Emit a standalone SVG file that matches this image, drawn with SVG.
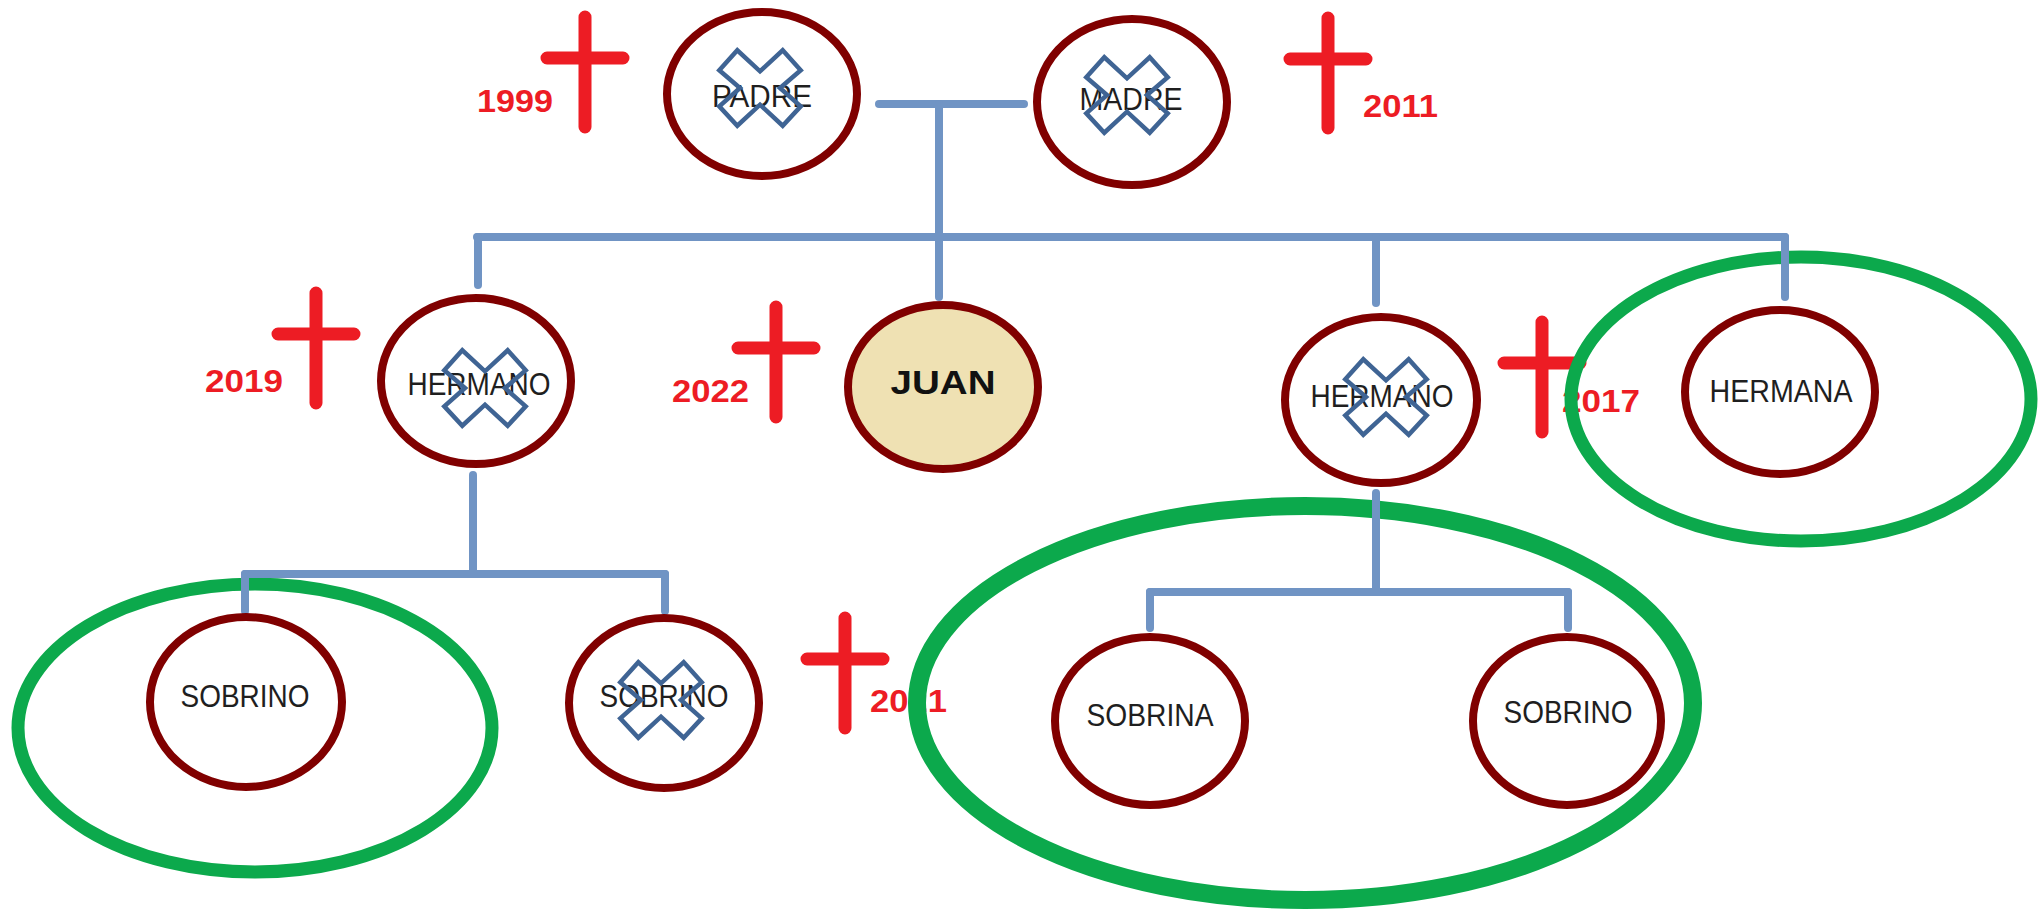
<svg xmlns="http://www.w3.org/2000/svg" width="2040" height="911" viewBox="0 0 2040 911">
<style>
.node{fill:#ffffff;stroke:#800000;stroke-width:8}
.juan{fill:#EFE1B3}
.lbl{font-family:"Liberation Sans",Arial,sans-serif;font-size:31px;fill:#1f1f1f;text-anchor:middle}
.jlbl{font-family:"Liberation Sans",Arial,sans-serif;font-size:34px;font-weight:bold;fill:#111111;text-anchor:middle}
.yr{font-family:"Liberation Sans",Arial,sans-serif;font-size:31px;font-weight:bold;fill:#ED1C24}
.cross{fill:none;stroke:#ED1C24;stroke-width:13;stroke-linecap:round}
.xm{fill:none;stroke:#3F6494;stroke-width:4.5;stroke-linejoin:miter}
.conn{fill:none;stroke:#7094C4;stroke-width:8;stroke-linecap:round}
.hl{fill:none;stroke:#0CA94C}
</style>
<defs>
<path id="cr" d="M0,0 V110 M-38,41 H38"/>
<polygon id="xmark" points="-40.7,-17.7 -22.7,-37.7 0,-16.7 22.7,-37.7 40.7,-17.7 20,0 40.7,18.3 22.7,37.7 0,16.7 -22.7,37.7 -40.7,18.3 -20,0"/>
</defs>
<rect width="2040" height="911" fill="#ffffff"/>

<g id="deaths">
<use href="#cr" class="cross" x="585" y="17"/>
<text class="yr" x="477" y="112" textLength="76" lengthAdjust="spacingAndGlyphs">1999</text>
<use href="#cr" class="cross" x="1328" y="18"/>
<text class="yr" x="1363" y="117" textLength="75" lengthAdjust="spacingAndGlyphs">2011</text>
<use href="#cr" class="cross" x="316" y="293"/>
<text class="yr" x="205" y="392" textLength="78" lengthAdjust="spacingAndGlyphs">2019</text>
<use href="#cr" class="cross" x="776" y="307"/>
<text class="yr" x="672" y="402" textLength="77" lengthAdjust="spacingAndGlyphs">2022</text>
<use href="#cr" class="cross" x="1542" y="322"/>
<text class="yr" x="1562" y="412" textLength="78" lengthAdjust="spacingAndGlyphs">2017</text>
<use href="#cr" class="cross" x="845" y="618"/>
<text class="yr" x="870" y="712" textLength="77" lengthAdjust="spacingAndGlyphs">2021</text>
</g>

<g id="highlights">
<ellipse class="hl" cx="255" cy="728" rx="237" ry="144" stroke-width="13"/>
<ellipse class="hl" cx="1801" cy="399" rx="230" ry="142" stroke-width="13"/>
<ellipse class="hl" cx="1305" cy="703" rx="388" ry="197" stroke-width="18"/>
</g>

<g id="connectors">
<path class="conn" d="M879,104 H1024"/>
<path class="conn" d="M939,104 V297"/>
<path class="conn" d="M477,237 H1785"/>
<path class="conn" d="M478,237 V285"/>
<path class="conn" d="M1376,237 V303"/>
<path class="conn" d="M1785,237 V297"/>
<path class="conn" d="M473,475 V574"/>
<path class="conn" d="M245,574 H665"/>
<path class="conn" d="M245,574 V611"/>
<path class="conn" d="M665,574 V611"/>
<path class="conn" d="M1376,493 V592"/>
<path class="conn" d="M1150,592 H1568"/>
<path class="conn" d="M1150,592 V628"/>
<path class="conn" d="M1568,592 V628"/>
</g>

<g id="padre">
<ellipse class="node" cx="762" cy="94" rx="95" ry="82"/>
<text class="lbl" x="762" y="107" textLength="100" lengthAdjust="spacingAndGlyphs">PADRE</text>
<use href="#xmark" class="xm" x="760" y="88"/>
</g>
<g id="madre">
<ellipse class="node" cx="1132" cy="102" rx="95" ry="83"/>
<text class="lbl" x="1131" y="110" textLength="103" lengthAdjust="spacingAndGlyphs">MADRE</text>
<use href="#xmark" class="xm" x="1127" y="95"/>
</g>
<g id="hermano1">
<ellipse class="node" cx="476" cy="381" rx="95" ry="83"/>
<text class="lbl" x="479" y="395" textLength="143" lengthAdjust="spacingAndGlyphs">HERMANO</text>
<use href="#xmark" class="xm" x="485" y="388"/>
</g>
<g id="juan">
<ellipse class="node juan" cx="943" cy="387" rx="95" ry="82"/>
<text class="jlbl" x="943" y="394" textLength="105" lengthAdjust="spacingAndGlyphs">JUAN</text>
</g>
<g id="hermano2">
<ellipse class="node" cx="1381" cy="400" rx="96" ry="83"/>
<text class="lbl" x="1382" y="407" textLength="143" lengthAdjust="spacingAndGlyphs">HERMANO</text>
<use href="#xmark" class="xm" x="1386" y="397"/>
</g>
<g id="hermana">
<ellipse class="node" cx="1780" cy="392" rx="95" ry="82"/>
<text class="lbl" x="1781" y="402" textLength="143" lengthAdjust="spacingAndGlyphs">HERMANA</text>
</g>
<g id="sobrino1">
<ellipse class="node" cx="246" cy="702" rx="96" ry="85"/>
<text class="lbl" x="245" y="707" textLength="129" lengthAdjust="spacingAndGlyphs">SOBRINO</text>
</g>
<g id="sobrino2">
<ellipse class="node" cx="664" cy="703" rx="95" ry="85"/>
<text class="lbl" x="664" y="707" textLength="129" lengthAdjust="spacingAndGlyphs">SOBRINO</text>
<use href="#xmark" class="xm" x="661" y="700"/>
</g>
<g id="sobrina">
<ellipse class="node" cx="1150" cy="721" rx="95" ry="84"/>
<text class="lbl" x="1150" y="726" textLength="127" lengthAdjust="spacingAndGlyphs">SOBRINA</text>
</g>
<g id="sobrino3">
<ellipse class="node" cx="1567" cy="721" rx="94" ry="84"/>
<text class="lbl" x="1568" y="723" textLength="129" lengthAdjust="spacingAndGlyphs">SOBRINO</text>
</g>
</svg>
